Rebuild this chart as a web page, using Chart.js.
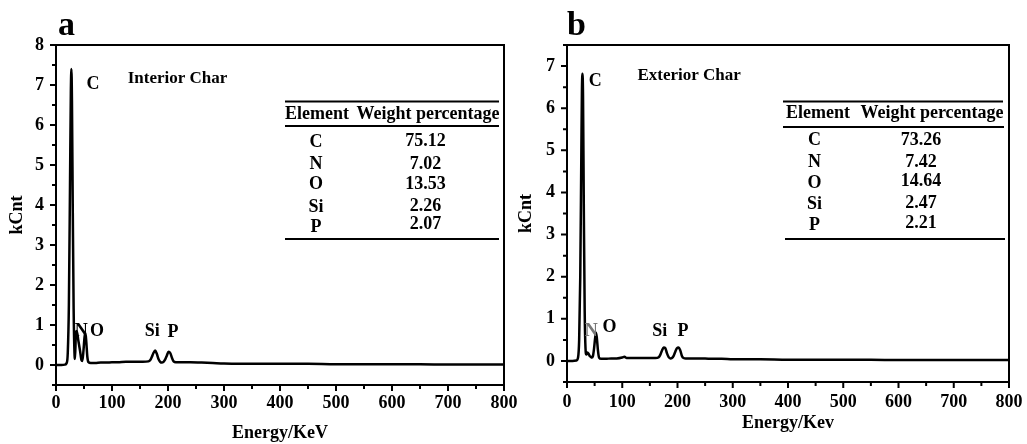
<!DOCTYPE html>
<html>
<head>
<meta charset="utf-8">
<script src="https://cdn.jsdelivr.net/npm/chart.js@4.4.0/dist/chart.umd.min.js"></script>
<style>
html,body{margin:0;padding:0;background:#fff;}
#wrap{position:relative;width:1027px;height:444px;overflow:hidden;}
canvas{position:absolute;top:0;}
#cA{left:0;}
#cB{left:513px;}
</style>
</head>
<body>
<div id="wrap">
<canvas id="cA" width="540" height="444"></canvas>
<canvas id="cB" width="514" height="444"></canvas>
</div>
<script>
// ---- panel a : Interior Char ----
const energyA = [0,10,16,19,21,23,25,26.5,27.5,28.5,
  30,31.5,33,34,35.5,37,40,43,45.5,47,
  49,51,52.5,54,56,58,62,70,80,90,
  100,110,125,140,155,165,168,171,174,177,
  180,183,186,189,192,195,198,201,204,207,
  210,214,220,240,260,280,300,350,400,450,
  500,550,600,650,700,750,800];
const countA = [0,0,0.01,0.05,0.3,1.5,4.5,6.8,7.4,6.6,
  3.8,1.4,0.3,0.15,0.8,0.85,0.6,0.35,0.12,0.1,
  0.35,0.7,0.8,0.6,0.2,0.07,0.05,0.05,0.06,0.06,
  0.07,0.07,0.08,0.08,0.08,0.09,0.12,0.2,0.3,0.36,
  0.28,0.15,0.08,0.06,0.08,0.14,0.24,0.33,0.3,0.18,
  0.09,0.07,0.07,0.07,0.06,0.05,0.04,0.03,0.03,0.03,
  0.02,0.02,0.02,0.02,0.01,0.01,0.01];

// ---- panel b : Exterior Char ----
const energyB = [0,10,17,20,22,24,26,27,28,29,
  30.5,32,33.5,35,37,39,41,43,45,47,
  49,51,52.5,54,56,58,62,70,80,90,
  100,104,108,115,130,145,160,166,169,172,
  175,178,181,184,187,190,193,196,199,202,
  205,208,211,215,220,240,260,280,300,350,
  400,450,500,550,600,650,700,750,800];
const countB = [0,0,0.01,0.08,0.5,2.0,5.0,6.4,6.82,6.3,
  3.5,1.2,0.3,0.15,0.2,0.17,0.12,0.1,0.08,0.12,
  0.3,0.55,0.67,0.55,0.25,0.08,0.05,0.05,0.06,0.06,
  0.08,0.1,0.07,0.07,0.07,0.07,0.07,0.09,0.15,0.25,
  0.32,0.3,0.18,0.09,0.06,0.07,0.12,0.22,0.3,0.32,
  0.25,0.12,0.07,0.06,0.06,0.06,0.05,0.05,0.04,0.04,
  0.03,0.03,0.03,0.03,0.02,0.02,0.02,0.02,0.02];

// ticks
const xTicks = [0,100,200,300,400,500,600,700,800];
const xMinor = [50,150,250,350,450,550,650,750];
const yTicksA = [0,1,2,3,4,5,6,7,8];
const yTicksB = [0,1,2,3,4,5,6,7];
const yMinor = [-0.5,0.5,1.5,2.5,3.5,4.5,5.5,6.5,7.5];

// table contents
const elements = ['C','N','O','Si','P'];
const weightA = ['75.12','7.02','13.53','2.26','2.07'];
const weightB = ['73.26','7.42','14.64','2.47','2.21'];

// peak labels [text, energy, kCnt]
const peakLabelsA = [['C',66,7.02],['N',45,0.85],['O',73,0.85],['Si',172,0.85],['P',209,0.82]];
const peakLabelsB = [['C',51,6.63],['N',44,0.71],['O',77,0.8],['Si',168,0.71],['P',210,0.7]];

const FONT = "'Liberation Serif','Times New Roman',serif";

function panelPlugin(p){
  return {
    id: 'panel' + p.letter,
    afterDraw(chart){
      const ctx = chart.ctx, a = chart.chartArea;
      const xs = chart.scales.x, ys = chart.scales.y;
      const ox = p.offsetX;
      ctx.save();
      ctx.strokeStyle = '#000';
      ctx.fillStyle = '#000';
      ctx.lineWidth = 2;
      ctx.strokeRect(a.left, a.top, a.right - a.left, a.bottom - a.top);
      // tick marks, outward
      ctx.beginPath();
      xTicks.forEach(v => { const px = xs.getPixelForValue(v); ctx.moveTo(px, a.bottom); ctx.lineTo(px, a.bottom + 6); });
      xMinor.forEach(v => { const px = xs.getPixelForValue(v); ctx.moveTo(px, a.bottom); ctx.lineTo(px, a.bottom + 4); });
      p.yTicks.forEach(v => { const py = ys.getPixelForValue(v); ctx.moveTo(a.left, py); ctx.lineTo(a.left - 6, py); });
      yMinor.forEach(v => { const py = ys.getPixelForValue(v); ctx.moveTo(a.left, py); ctx.lineTo(a.left - 4, py); });
      ctx.stroke();

      // panel letter
      ctx.font = 'bold 34px ' + FONT;
      ctx.textAlign = 'left';
      ctx.textBaseline = 'alphabetic';
      ctx.fillText(p.letter, p.letterX - ox, 35);

      // sample name + peak labels
      ctx.textAlign = 'center';
      ctx.textBaseline = 'middle';
      ctx.font = 'bold 17px ' + FONT;
      ctx.fillText(p.name, xs.getPixelForValue(p.nameAt[0]), ys.getPixelForValue(p.nameAt[1]));
      ctx.font = 'bold 18px ' + FONT;
      p.peaks.forEach(l => {
        ctx.fillStyle = (p.greyN && l[0] === 'N') ? '#777' : '#000';
        ctx.fillText(l[0], xs.getPixelForValue(l[1]), ys.getPixelForValue(l[2]));
      });
      ctx.fillStyle = '#000';

      // table
      const t = p.table;
      ctx.lineWidth = 2;
      ctx.beginPath();
      t.rules.forEach(r => { ctx.moveTo(r[0] - ox, r[2]); ctx.lineTo(r[1] - ox, r[2]); });
      ctx.stroke();
      ctx.font = 'bold 18px ' + FONT;
      ctx.fillText('Element', t.headEl - ox, t.headY);
      ctx.fillText('Weight percentage', t.headVal - ox, t.headY);
      elements.forEach((e, i) => {
        ctx.fillText(e, t.colEl - ox, t.rowEl[i]);
        ctx.fillText(p.weights[i], t.colVal - ox, t.rowVal[i]);
      });
      ctx.restore();
    }
  };
}

function makeChart(id, p){
  const pts = p.energy.map((e, i) => ({x: e, y: p.counts[i]}));
  return new Chart(document.getElementById(id), {
    type: 'line',
    data: { datasets: [{
      data: pts,
      borderColor: '#000',
      borderWidth: 2.5,
      pointRadius: 0,
      cubicInterpolationMode: 'monotone',
      fill: false
    }]},
    options: {
      responsive: false,
      animation: false,
      layout: { padding: { top: 45, right: p.padRight, bottom: 0, left: 0 } },
      plugins: { legend: { display: false }, tooltip: { enabled: false } },
      scales: {
        x: {
          type: 'linear', min: 0, max: 800,
          grid: { display: false, drawTicks: false },
          border: { display: false },
          ticks: { color: '#000', font: { family: FONT, size: 18, weight: 'bold' }, padding: p.xPad, maxRotation: 0, autoSkip: false },
          afterBuildTicks: s => { s.ticks = xTicks.map(v => ({value: v})); },
          afterFit: s => { s.height = p.xHeight; s.paddingLeft = 0; s.paddingRight = 0; },
          title: { display: true, text: p.xTitle, color: '#000', font: { family: FONT, size: 18, weight: 'bold' }, padding: { top: 0, bottom: p.xTitlePad } }
        },
        y: {
          type: 'linear', min: -0.5, max: p.yMax,
          grid: { display: false, drawTicks: false },
          border: { display: false },
          ticks: { color: '#000', font: { family: FONT, size: 18, weight: 'bold' }, padding: 12, autoSkip: false },
          afterBuildTicks: s => { s.ticks = p.yTicks.map(v => ({value: v})); },
          afterFit: s => { s.width = p.yWidth; s.paddingTop = 0; s.paddingBottom = 0; },
          title: { display: true, text: 'kCnt', color: '#000', font: { family: FONT, size: 18, weight: 'bold' }, padding: { top: p.yTitlePad, bottom: 0 } }
        }
      }
    },
    plugins: [panelPlugin(p)]
  });
}

makeChart('cA', {
  letter: 'a', letterX: 58, offsetX: 0,
  energy: energyA, counts: countA, yMax: 8, yTicks: yTicksA,
  name: 'Interior Char', nameAt: [217, 7.17], peaks: peakLabelsA, greyN: false,
  weights: weightA,
  padRight: 36, yWidth: 56, xHeight: 59, xPad: 8, xTitlePad: 0, yTitlePad: 7,
  xTitle: 'Energy/KeV',
  table: { rules: [[285,499,101.5],[285,499,126],[285,499,239]], headY: 114, headEl: 317, headVal: 428,
           colEl: 316, colVal: 425.5, rowEl: [142,164,184,207,227], rowVal: [141,164,184,206,224] }
});

makeChart('cB', {
  letter: 'b', letterX: 567, offsetX: 513,
  energy: energyB, counts: countB, yMax: 7.5, yTicks: yTicksB,
  name: 'Exterior Char', nameAt: [221, 6.77], peaks: peakLabelsB, greyN: true,
  weights: weightB,
  padRight: 18, yWidth: 54, xHeight: 62, xPad: 10, xTitlePad: 10, yTitlePad: 3,
  xTitle: 'Energy/Kev',
  table: { rules: [[783,1003,101.5],[783,1004,127],[785,1005,239]], headY: 113.5, headEl: 818, headVal: 932,
           colEl: 814.5, colVal: 921, rowEl: [140,162,183,204.5,225], rowVal: [140,162,181,203,223] }
});
</script>
</body>
</html>
